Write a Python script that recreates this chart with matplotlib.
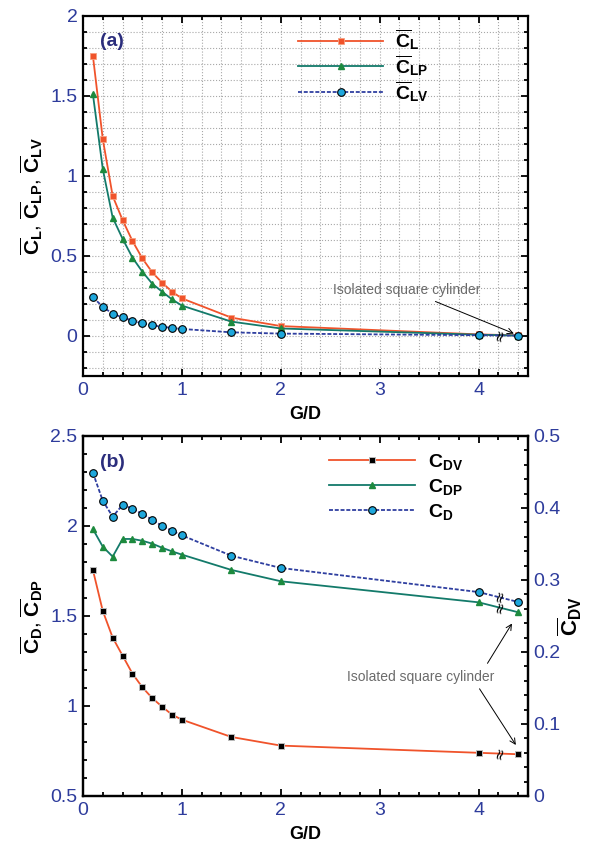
import matplotlib
matplotlib.use("Agg")
import matplotlib.pyplot as plt
from matplotlib.ticker import MultipleLocator, FuncFormatter

plt.rcParams['font.family'] = ['Liberation Sans', 'DejaVu Sans']
plt.rcParams['mathtext.fontset'] = 'custom'
plt.rcParams['mathtext.rm'] = 'Liberation Sans'
plt.rcParams['mathtext.bf'] = 'Liberation Sans:bold'
plt.rcParams['mathtext.it'] = 'Liberation Sans:italic'

# ---------------- data ----------------
gd = [0.1, 0.2, 0.3, 0.4, 0.5, 0.6, 0.7, 0.8, 0.9, 1.0, 1.5, 2.0, 4.0]
gd_iso = 4.4  # isolated square cylinder (plotted after axis break)

cl  = [1.752, 1.231, 0.875, 0.725, 0.594, 0.485, 0.398, 0.333, 0.277, 0.235, 0.115, 0.062, 0.010]
clp = [1.512, 1.044, 0.740, 0.608, 0.490, 0.402, 0.327, 0.277, 0.229, 0.190, 0.090, 0.047, 0.008]
clv = [0.242, 0.183, 0.138, 0.117, 0.096, 0.079, 0.067, 0.058, 0.050, 0.044, 0.023, 0.015, 0.005]
cl_iso, clp_iso, clv_iso = 0.004, 0.003, 0.002

cd  = [2.296, 2.140, 2.052, 2.117, 2.096, 2.067, 2.035, 2.000, 1.974, 1.948, 1.835, 1.767, 1.633]
cdp = [1.983, 1.885, 1.830, 1.928, 1.928, 1.918, 1.902, 1.879, 1.859, 1.841, 1.756, 1.693, 1.576]
cdv = [0.314, 0.257, 0.220, 0.195, 0.170, 0.151, 0.136, 0.124, 0.113, 0.106, 0.082, 0.070, 0.060]
cd_iso, cdp_iso, cdv_iso = 1.578, 1.521, 0.058

xticks = [0, 1, 2, 3, 4]

# ---------------- style ----------------
RED = '#f0532b'
TEAL = '#137a6a'
GREEN = '#1d8a3e'
BLUE = '#2f3fa0'
CYAN = '#1ea7dc'
TICKC = '#2e3c9c'
NAVY = '#2b2d7c'
GRAY = '#6b6b6b'

fig = plt.figure(figsize=(5.93, 8.43), dpi=100)
W, H = 593, 843
ax1 = fig.add_axes([83 / W, 1 - 376 / H, 445 / W, 360 / H])
ax2 = fig.add_axes([83 / W, 1 - 796 / H, 445 / W, 360 / H])

fmt = FuncFormatter(lambda v, p: '%g' % round(v, 3))


def style_axis(ax, top=True, right=True):
    for s in ax.spines.values():
        s.set_linewidth(1.6)
    ax.tick_params(which='both', direction='in', top=top, right=right,
                   labelsize=14, labelcolor=TICKC, width=1.3)
    ax.tick_params(axis='x', which='both', pad=4)
    ax.tick_params(axis='y', which='both', pad=4)
    ax.tick_params(which='major', length=5)
    ax.tick_params(which='minor', length=3)


def x_all(vals, iso):
    return gd + [gd_iso], vals + [iso]


def brk(axis, yy):
    axis.text(4.21, yy, '\u2248', rotation=75, fontsize=11, ha='center', va='center',
              family='DejaVu Sans', color='k', zorder=6)


# ---------------- panel (a) ----------------
ax = ax1
x, y = x_all(cl, cl_iso)
ax.plot(x, y, '-', color=RED, lw=1.3, marker='s', ms=4.2, mfc=RED, mec='#f7a080',
        mew=0.6, label=r'$\overline{\mathbf{C}}_{\mathbf{L}}$', zorder=4)
x, y = x_all(clp, clp_iso)
ax.plot(x, y, '-', color=TEAL, lw=1.3, marker='^', ms=5, mfc=GREEN, mec=GREEN,
        label=r'$\overline{\mathbf{C}}_{\mathbf{LP}}$', zorder=4)
x, y = x_all(clv, clv_iso)
ax.plot(x, y, '--', color=BLUE, lw=1.3, dashes=(2.2, 1), marker='o', ms=5.5, mfc=CYAN,
        mec='k', mew=0.8, label=r'$\overline{\mathbf{C}}_{\mathbf{LV}}$', zorder=5)

ax.set_xlim(0, 4.5)
ax.set_ylim(-0.25, 2)
ax.set_xticks(xticks)
ax.xaxis.set_minor_locator(MultipleLocator(0.2))
ax.yaxis.set_major_locator(MultipleLocator(0.5))
ax.yaxis.set_minor_locator(MultipleLocator(0.1))
ax.xaxis.set_major_formatter(fmt)
ax.yaxis.set_major_formatter(fmt)
ax.grid(True, which='both', ls=':', color='#a8a8a8', lw=0.8)
ax.set_axisbelow(True)
style_axis(ax)
ax.set_xlabel('G/D', fontsize=13, fontweight='bold')
ax.xaxis.set_label_coords(0.5, -0.083)
ax.set_ylabel(r'$\overline{\mathbf{C}}_{\mathbf{L}}$, $\overline{\mathbf{C}}_{\mathbf{LP}}$, '
              r'$\overline{\mathbf{C}}_{\mathbf{LV}}$', fontsize=15)
ax.yaxis.set_label_coords(-0.085, 0.5)
ax.text(0.038, 0.928, '(a)', transform=ax.transAxes, fontsize=14, fontweight='bold',
        color=NAVY, va='center', ha='left')
ax.legend(loc='upper left', bbox_to_anchor=(0.483, 0.968), frameon=False,
          fontsize=14, handlelength=4.4, handletextpad=0.6, labelspacing=0.05,
          borderpad=0, borderaxespad=0)
ax.annotate('Isolated square cylinder', xy=(4.37, 0.012), xytext=(3.27, 0.29),
            fontsize=10, color=GRAY, ha='center', va='center',
            arrowprops=dict(arrowstyle='->', color='k', lw=0.7,
                            shrinkA=4, shrinkB=1))
brk(ax, 0.006)

# ---------------- panel (b) ----------------
ax = ax2
axr = ax.twinx()
x, y = x_all(cd, cd_iso)
l_cd, = ax.plot(x, y, '--', color=BLUE, lw=1.3, dashes=(2.2, 1), marker='o', ms=5.5,
                mfc=CYAN, mec='k', mew=0.8, label=r'$\mathbf{C}_{\mathbf{D}}$', zorder=5)
x, y = x_all(cdp, cdp_iso)
l_cdp, = ax.plot(x, y, '-', color=TEAL, lw=1.3, marker='^', ms=5, mfc=GREEN, mec=GREEN,
                 label=r'$\mathbf{C}_{\mathbf{DP}}$', zorder=4)
x, y = x_all(cdv, cdv_iso)
l_cdv, = axr.plot(x, y, '-', color=RED, lw=1.3, marker='s', ms=5, mfc='k', mec='#bbbbbb',
                  mew=0.7, label=r'$\mathbf{C}_{\mathbf{DV}}$', zorder=4)

ax.set_xlim(0, 4.5)
ax.set_ylim(0.5, 2.5)
axr.set_ylim(0, 0.5)
ax.set_xticks(xticks)
ax.xaxis.set_minor_locator(MultipleLocator(0.2))
ax.yaxis.set_major_locator(MultipleLocator(0.5))
ax.yaxis.set_minor_locator(MultipleLocator(0.1))
axr.yaxis.set_major_locator(MultipleLocator(0.1))
axr.yaxis.set_minor_locator(MultipleLocator(0.02))
ax.xaxis.set_major_formatter(fmt)
ax.yaxis.set_major_formatter(fmt)
axr.yaxis.set_major_formatter(fmt)
style_axis(ax, top=True, right=False)
style_axis(axr, top=False, right=True)
axr.tick_params(which='both', left=False)
ax.set_xlabel('G/D', fontsize=13, fontweight='bold')
ax.xaxis.set_label_coords(0.5, -0.083)
ax.set_ylabel(r'$\overline{\mathbf{C}}_{\mathbf{D}}$, $\overline{\mathbf{C}}_{\mathbf{DP}}$',
              fontsize=15)
ax.yaxis.set_label_coords(-0.085, 0.5)
axr.set_ylabel(r'$\overline{\mathbf{C}}_{\mathbf{DV}}$', fontsize=16)
axr.yaxis.set_label_coords(1.063, 0.5)
ax.text(0.038, 0.925, '(b)', transform=ax.transAxes, fontsize=14, fontweight='bold',
        color=NAVY, va='center', ha='left')
ax.legend(handles=[l_cdv, l_cdp, l_cd], loc='upper left', bbox_to_anchor=(0.553, 0.955),
          frameon=False, fontsize=14, handlelength=4.4, handletextpad=0.7,
          labelspacing=0.25, borderpad=0, borderaxespad=0)
ax.annotate('Isolated square cylinder', xy=(4.36, 1.478), xytext=(3.41, 1.163),
            fontsize=10, color=GRAY, ha='center', va='center',
            arrowprops=dict(arrowstyle='->', color='k', lw=0.7,
                            relpos=(0.93, 1.0), shrinkA=3, shrinkB=3))
ax.annotate('Isolated square cylinder', xy=(4.40, 0.764), xytext=(3.41, 1.163),
            fontsize=10, color=(0, 0, 0, 0), ha='center', va='center',
            arrowprops=dict(arrowstyle='->', color='k', lw=0.7,
                            relpos=(0.88, 0.0), shrinkA=2, shrinkB=3))
brk(ax, 1.61)
brk(ax, 1.55)
brk(axr, 0.059)

fig.savefig('out.png', dpi=100)
